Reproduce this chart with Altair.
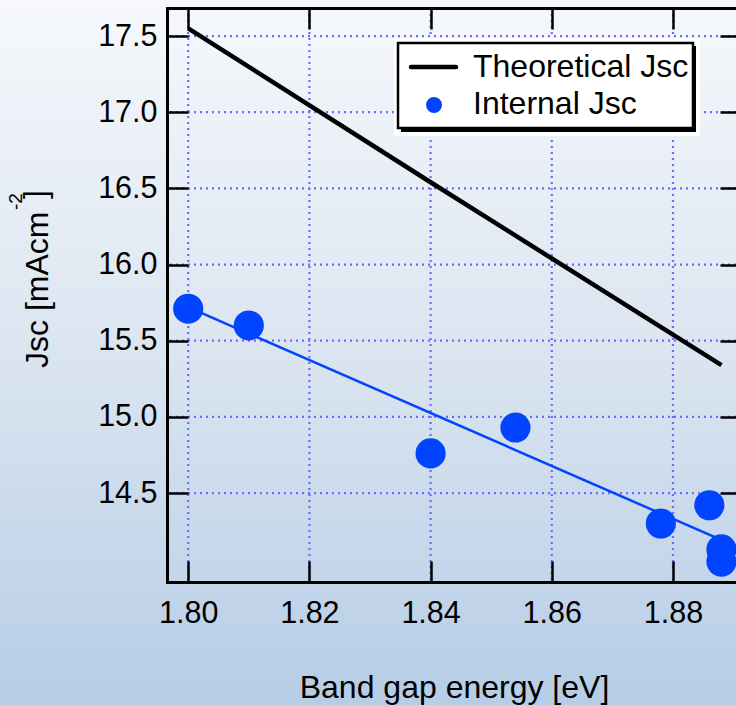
import altair as alt
import pandas as pd

# ---------------- data ----------------
bandgap = [1.800, 1.810, 1.840, 1.854, 1.878, 1.886, 1.888, 1.888]
internal_jsc = [15.71, 15.60, 14.76, 14.93, 14.30, 14.42, 14.13, 14.05]
theory_bandgap = [1.800, 1.840, 1.888]
theory_jsc = [17.55, 16.54, 15.34]
fit_bandgap = [1.800, 1.8904]
fit_jsc = [15.72, 14.15]
x_ticks = [1.80, 1.82, 1.84, 1.86, 1.88]
y_ticks = [14.5, 15.0, 15.5, 16.0, 16.5, 17.0, 17.5]
legend_labels = ["Theoretical Jsc", "Internal Jsc"]
x_title = "Band gap energy [eV]"
y_title_parts = ["Jsc [mAcm", "-2", "]"]

FONT = "Liberation Sans"
W, H = 569, 574
PAD_L, PAD_T, PAD_B = 167, 8, 123
BLUE = "#0044ff"
GRID = "#6b6bff"

xs = alt.Scale(domain=[1.7965, 1.8904], nice=False, zero=False)
ys = alt.Scale(domain=[13.916, 17.684], nice=False, zero=False)

pts = pd.DataFrame({"bandgap": bandgap, "jsc": internal_jsc})
theo = pd.DataFrame({"bandgap": theory_bandgap, "jsc": theory_jsc})
fit = pd.DataFrame({"bandgap": fit_bandgap, "jsc": fit_jsc})
xt = pd.DataFrame({"v": x_ticks})
yt = pd.DataFrame({"v": y_ticks})
one = alt.Data(values=[{}])

common = dict(zindex=1, grid=False, domainColor="black", tickColor="black",
              tickWidth=2.5, domainWidth=3, domainCap="square",
              labelFont=FONT, labelFontSize=30.5, labelColor="black")

ax_x_bottom = alt.Axis(orient="bottom", offset=-21, tickSize=21, domain=False,
                       values=x_ticks, format=".2f", labelPadding=16, title=None,
                       labelFlush=False, labelOverlap=False, **common)
ax_x_top = alt.Axis(orient="top", offset=-21, tickSize=21, domain=False,
                    labels=False, values=x_ticks, title=None, **common)
ax_x_frame = alt.Axis(orient="bottom", domain=True, ticks=False, labels=False,
                      title=x_title, titleX=287, titleY=115, titleAlign="center",
                      titleBaseline="alphabetic", titleFontSize=32,
                      titleFontWeight="normal", titleFont=FONT, titleColor="black",
                      **common)
ax_x_topframe = alt.Axis(orient="top", domain=True, ticks=False, labels=False,
                         title=None, **common)
ax_y_left = alt.Axis(orient="left", offset=-21, tickSize=21, domain=False,
                     values=y_ticks, format=".1f", labelPadding=10, title=None,
                     labelFlush=False, labelOverlap=False, **common)
ax_y_right = alt.Axis(orient="right", offset=-16, tickSize=16, domain=False,
                      labels=False, values=y_ticks, title=None, **common)
ax_y_frame = alt.Axis(orient="left", domain=True, ticks=False, labels=False,
                      title=None, **common)

gradient = alt.Gradient(
    gradient="linear", x1=0, x2=0, y1=0, y2=1,
    stops=[alt.GradientStop(color="#f6f8fc", offset=0),
           alt.GradientStop(color="#dbe5f0", offset=0.5),
           alt.GradientStop(color="#b6cde6", offset=1)])

bg = alt.Chart(one).mark_rect(fill=gradient).encode(
    x=alt.value(-PAD_L), x2=alt.value(W + 10),
    y=alt.value(-PAD_T), y2=alt.value(H + PAD_B))

vgrid = alt.Chart(xt).mark_rule(color=GRID, strokeWidth=2.2, strokeDash=[2, 4]).encode(
    x=alt.X("v:Q", scale=xs, axis=ax_x_bottom))
hgrid = alt.Chart(yt).mark_rule(color=GRID, strokeWidth=2.2, strokeDash=[2, 4]).encode(
    y=alt.Y("v:Q", scale=ys, axis=ax_y_left))

theory_line = alt.Chart(theo).mark_line(color="black", strokeWidth=4.5).encode(
    x=alt.X("bandgap:Q", scale=xs, axis=ax_x_top),
    y=alt.Y("jsc:Q", scale=ys, axis=ax_y_right))

fit_line = alt.Chart(fit).mark_line(color=BLUE, strokeWidth=2.5).encode(
    x=alt.X("bandgap:Q", scale=xs, axis=ax_x_frame),
    y=alt.Y("jsc:Q", scale=ys, axis=ax_y_frame))

points = alt.Chart(pts).mark_circle(color=BLUE, opacity=1, size=908).encode(
    x=alt.X("bandgap:Q", scale=xs, axis=ax_x_topframe),
    y=alt.Y("jsc:Q", scale=ys, axis=None))

# legend box
leg_white = alt.Chart(one).mark_rect(fill="white").encode(
    x=alt.value(227), x2=alt.value(533), y=alt.value(30), y2=alt.value(128))
leg_shadow = alt.Chart(one).mark_rect(fill="black").encode(
    x=alt.value(234), x2=alt.value(529), y=alt.value(38), y2=alt.value(124))
leg_frame = alt.Chart(one).mark_rect(fill="white", stroke="black", strokeWidth=2.5).encode(
    x=alt.value(231), x2=alt.value(526), y=alt.value(35), y2=alt.value(120))
leg_line = alt.Chart(one).mark_rule(color="black", strokeWidth=4.5, strokeCap="round").encode(
    x=alt.value(244), x2=alt.value(289), y=alt.value(59))
leg_dot = alt.Chart(one).mark_circle(color=BLUE, opacity=1, size=254).encode(
    x=alt.value(267), y=alt.value(97))
leg_t1 = alt.Chart(one).mark_text(text=legend_labels[0], align="left", baseline="alphabetic",
                                  font=FONT, fontSize=32, color="black").encode(
    x=alt.value(306), y=alt.value(69))
leg_t2 = alt.Chart(one).mark_text(text=legend_labels[1], align="left", baseline="alphabetic",
                                  font=FONT, fontSize=32, color="black").encode(
    x=alt.value(306), y=alt.value(106))

# y-axis title with superscript
yt1 = alt.Chart(one).mark_text(text=y_title_parts[0], angle=270, align="left",
                               baseline="alphabetic", font=FONT, fontSize=32,
                               color="black").encode(x=alt.value(-119), y=alt.value(360))
yt2 = alt.Chart(one).mark_text(text=y_title_parts[1], angle=270, align="left",
                               baseline="alphabetic", font=FONT, fontSize=19,
                               color="black").encode(x=alt.value(-145), y=alt.value(202))
yt3 = alt.Chart(one).mark_text(text=y_title_parts[2], angle=270, align="left",
                               baseline="alphabetic", font=FONT, fontSize=32,
                               color="black").encode(x=alt.value(-121), y=alt.value(191))

chart = alt.layer(
    bg, vgrid, hgrid, theory_line, fit_line, points,
    leg_white, leg_shadow, leg_frame, leg_line, leg_dot, leg_t1, leg_t2,
    yt1, yt2, yt3,
).resolve_axis(x="independent", y="independent").properties(
    width=W, height=H,
    autosize=alt.AutoSizeParams(type="none"),
    padding={"left": PAD_L, "top": PAD_T, "right": 0, "bottom": PAD_B},
    background="#dbe5f0",
).configure_view(stroke=None)

chart.save("out.html", embed_options={"renderer": "svg", "actions": False})
